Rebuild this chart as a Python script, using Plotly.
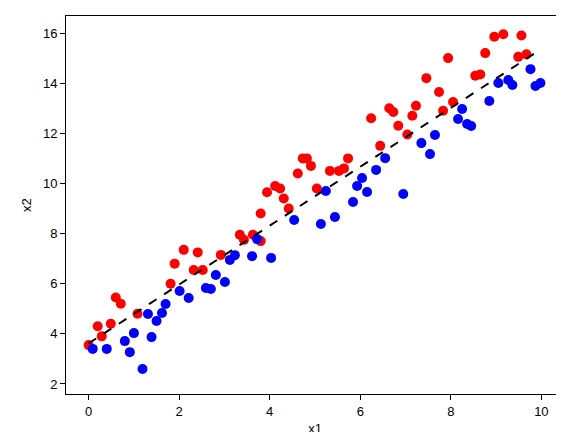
import plotly.graph_objects as go

red_x = [0.0,0.2,0.29,0.49,0.6,0.71,1.08,1.81,1.9,2.1,2.32,2.41,2.52,2.92,3.34,3.43,3.63,3.8,3.8,3.94,4.12,4.23,4.31,4.42,4.62,4.73,4.82,4.91,5.04,5.33,5.53,5.64,5.73,6.24,6.44,6.64,6.73,6.84,7.04,7.15,7.23,7.46,7.74,7.83,7.94,8.05,8.54,8.65,8.76,8.96,9.16,9.49,9.56,9.67]
red_y = [3.55,4.3,3.9,4.4,5.45,5.2,4.8,6.0,6.8,7.35,6.55,7.25,6.55,7.15,7.95,7.75,7.95,7.7,8.8,9.65,9.9,9.8,9.4,9.0,10.4,11.0,11.0,10.7,9.8,10.5,10.5,10.6,11.0,12.6,11.5,13.0,12.85,12.3,11.95,12.7,13.1,14.2,13.65,12.9,15.0,13.25,14.3,14.35,15.2,15.85,15.95,15.05,15.9,15.15]
blue_x = [0.09,0.40,0.80,0.91,1.00,1.19,1.31,1.39,1.50,1.62,1.70,2.01,2.21,2.59,2.70,2.81,3.01,3.12,3.23,3.61,3.72,4.03,4.54,5.13,5.44,5.24,5.84,5.93,6.04,6.15,6.35,6.55,6.95,7.35,7.54,7.65,8.16,8.25,8.36,8.45,8.85,9.05,9.27,9.36,9.76,9.87,9.98]
blue_y = [3.40,3.40,3.71,3.27,4.03,2.60,4.79,3.87,4.51,4.83,5.19,5.71,5.43,5.83,5.79,6.35,6.07,6.95,7.14,7.10,7.78,7.03,8.54,8.38,8.66,9.70,9.26,9.90,10.22,9.66,10.54,11.01,9.58,11.61,11.17,11.93,12.57,12.97,12.37,12.29,13.29,14.01,14.13,13.93,14.56,13.89,14.01]
line_x = [0.0, 9.93]
line_y = [3.62, 15.28]

fig = go.Figure()
fig.add_trace(go.Scatter(x=red_x, y=red_y, mode="markers", marker=dict(color="red", size=10), showlegend=False))
fig.add_trace(go.Scatter(x=blue_x, y=blue_y, mode="markers", marker=dict(color="blue", size=10), showlegend=False))
fig.add_trace(go.Scatter(x=line_x, y=line_y, mode="lines", line=dict(color="black", dash="dash", width=2), showlegend=False))

axis = dict(showgrid=False, zeroline=False, showline=True, mirror=True, linecolor="black", linewidth=1,
            ticks="outside", ticklen=5, tickcolor="black", tickfont=dict(size=13, color="black"),
            automargin=False)
fig.update_layout(
    width=564, height=432, margin=dict(l=58, r=8, t=8, b=46),
    plot_bgcolor="white", paper_bgcolor="white",
    font=dict(family="Liberation Sans, Arial, sans-serif", color="black"),
    xaxis=dict(axis, range=[-0.5, 10.5], dtick=2, title=dict(text="x1", font=dict(size=13), standoff=6)),
    yaxis=dict(axis, range=[1.6, 16.68], dtick=2, title=dict(text="x2", font=dict(size=13), standoff=8)),
)
fig.write_html("out.html")
